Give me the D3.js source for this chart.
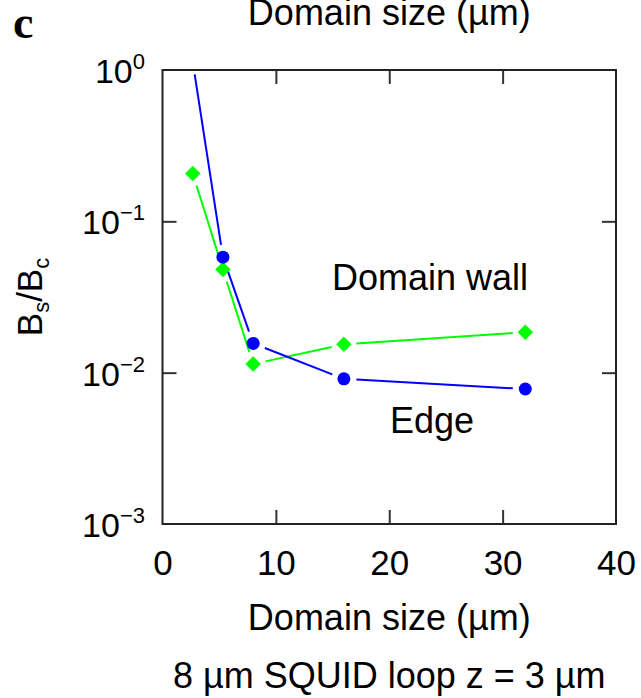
<!DOCTYPE html>
<html lang="en">
<head>
  <meta charset="UTF-8">
  <title>Bs/Bc vs domain size</title>
  <script type="text/javascript" src="https://cdn.jsdelivr.net/npm/d3@7/dist/d3.min.js"></script>
  <style type="text/css">
  body {
    background: #fff;
    margin: 0;
    padding: 0;
  }
  svg {
    display: block;
    background: #fff;
  }
  text {
    font-family: "Liberation Sans", Arial, Helvetica, sans-serif;
    fill: #000;
  }
  .axis line {
    stroke: #333;
    stroke-width: 2px;
  }
  .axis path {
    display: none;
  }
  .frame {
    fill: none;
    stroke: #222;
    stroke-width: 2px;
  }
  </style>
</head>
<body>
<div id="chart"></div>
<script type="text/javascript">
  // domain sizes (um)
  var domainSize = [2.67, 5.33, 8, 16, 32];
  // edge series (blue circles), first point is off the top of the plot
  var edgeValues = [1.13, 0.058, 0.0156, 0.0091, 0.0078];
  // domain wall series (green diamonds)
  var wallValues = [0.207, 0.048, 0.0114, 0.0154, 0.0185];

  var xTicks = [0, 10, 20, 30, 40];
  var yTicks = [1, 0.1, 0.01, 0.001];
  var yExps = ['0', '\u22121', '\u22122', '\u22123'];

  var width = 641, height = 698;
  var pLeft = 162.5, pRight = 616, pTop = 70, pBottom = 524;
  var gap = 12.5; // gap left around markers along the lines

  var svg = d3.select('#chart')
    .append('svg')
    .attr('width', width)
    .attr('height', height);

  var xScale = d3.scaleLinear()
    .domain([0, 40])
    .range([pLeft, pRight]);

  var yScale = d3.scaleLog()
    .domain([0.001, 1])
    .range([pBottom, pTop]);

  svg.append('defs').append('clipPath')
    .attr('id', 'clip')
    .append('rect')
    .attr('x', pLeft)
    .attr('y', pTop)
    .attr('width', pRight - pLeft)
    .attr('height', pBottom - pTop);

  // ticks pointing inwards on all four sides
  var xAxisB = d3.axisBottom(xScale).tickValues(xTicks).tickSizeInner(-14).tickSizeOuter(0).tickPadding(26);
  var xAxisT = d3.axisTop(xScale).tickValues([10, 20, 30]).tickSizeInner(-14).tickSizeOuter(0).tickFormat('');
  var yAxisL = d3.axisLeft(yScale).tickValues([0.1, 0.01]).tickSizeInner(-14).tickSizeOuter(0).tickFormat('');
  var yAxisR = d3.axisRight(yScale).tickValues([0.1, 0.01]).tickSizeInner(-14).tickSizeOuter(0).tickFormat('');

  var gxB = svg.append('g').attr('class', 'axis')
    .attr('transform', 'translate(0,' + pBottom + ')')
    .call(xAxisB);
  gxB.selectAll('.tick line').filter(function(d){ return d === 0 || d === 40; }).remove();
  gxB.selectAll('text').attr('font-size', 35);
  gxB.attr('font-family', null).attr('font-size', null);

  svg.append('g').attr('class', 'axis')
    .attr('transform', 'translate(0,' + pTop + ')')
    .call(xAxisT);
  svg.append('g').attr('class', 'axis')
    .attr('transform', 'translate(' + pLeft + ',0)')
    .call(yAxisL);
  svg.append('g').attr('class', 'axis')
    .attr('transform', 'translate(' + pRight + ',0)')
    .call(yAxisR);

  svg.append('rect')
    .attr('class', 'frame')
    .attr('x', pLeft)
    .attr('y', pTop)
    .attr('width', pRight - pLeft)
    .attr('height', pBottom - pTop);

  // y tick labels 10^n
  var yLab = svg.selectAll('.ylab')
    .data(yTicks)
    .enter()
    .append('text')
    .attr('class', 'ylab')
    .attr('text-anchor', 'end')
    .attr('x', 145)
    .attr('y', function(d){ return yScale(d) + 13; })
    .attr('font-size', 34);
  yLab.append('tspan').text('10');
  yLab.append('tspan')
    .attr('dy', -14)
    .attr('font-size', 22)
    .text(function(d, i){ return yExps[i]; });

  // series
  function segments(values) {
    var pts = domainSize.map(function(d, i){ return [xScale(d), yScale(values[i])]; });
    var segs = [];
    for (var i = 0; i < pts.length - 1; i++) {
      var a = pts[i], b = pts[i + 1];
      var dx = b[0] - a[0], dy = b[1] - a[1];
      var len = Math.sqrt(dx * dx + dy * dy);
      var ux = dx / len, uy = dy / len;
      segs.push([a[0] + ux * gap, a[1] + uy * gap, b[0] - ux * gap, b[1] - uy * gap]);
    }
    return segs;
  }

  var plot = svg.append('g').attr('clip-path', 'url(#clip)');

  plot.selectAll('.wallSeg')
    .data(segments(wallValues))
    .enter()
    .append('line')
    .attr('class', 'wallSeg')
    .attr('x1', function(d){ return d[0]; })
    .attr('y1', function(d){ return d[1]; })
    .attr('x2', function(d){ return d[2]; })
    .attr('y2', function(d){ return d[3]; })
    .attr('stroke', '#00ff00')
    .attr('stroke-width', 2);

  plot.selectAll('.edgeSeg')
    .data(segments(edgeValues))
    .enter()
    .append('line')
    .attr('class', 'edgeSeg')
    .attr('x1', function(d){ return d[0]; })
    .attr('y1', function(d){ return d[1]; })
    .attr('x2', function(d){ return d[2]; })
    .attr('y2', function(d){ return d[3]; })
    .attr('stroke', '#0000ff')
    .attr('stroke-width', 2);

  // diamonds: square turned by 45 degrees
  var diamond = d3.symbol().type(d3.symbolSquare).size(120);
  plot.selectAll('.wallPt')
    .data(wallValues)
    .enter()
    .append('path')
    .attr('class', 'wallPt')
    .attr('d', diamond)
    .attr('transform', function(d, i){
      return 'translate(' + xScale(domainSize[i]) + ',' + yScale(d) + ') rotate(45)';
    })
    .attr('fill', '#00ff00');

  plot.selectAll('.edgePt')
    .data(edgeValues)
    .enter()
    .append('circle')
    .attr('class', 'edgePt')
    .attr('cx', function(d, i){ return xScale(domainSize[i]); })
    .attr('cy', function(d){ return yScale(d); })
    .attr('r', 6.5)
    .attr('fill', '#0000ff');

  // annotations
  svg.append('text')
    .attr('x', 332)
    .attr('y', 290)
    .attr('font-size', 36)
    .text('Domain wall');

  svg.append('text')
    .attr('x', 390)
    .attr('y', 433)
    .attr('font-size', 36)
    .text('Edge');

  // axis titles
  var midX = (pLeft + pRight) / 2;
  svg.append('text')
    .attr('x', midX)
    .attr('y', 630)
    .attr('text-anchor', 'middle')
    .attr('font-size', 36)
    .text('Domain size (\u00b5m)');

  // repeated title, cut by the top edge as in the source figure
  svg.append('text')
    .attr('x', midX)
    .attr('y', 25)
    .attr('text-anchor', 'middle')
    .attr('font-size', 36)
    .text('Domain size (\u00b5m)');

  svg.append('text')
    .attr('x', midX)
    .attr('y', 688)
    .attr('text-anchor', 'middle')
    .attr('font-size', 36)
    .text('8 \u00b5m SQUID loop z = 3 \u00b5m');

  var yTitle = svg.append('text')
    .attr('transform', 'translate(42,' + (pTop + pBottom) / 2 + ') rotate(-90)')
    .attr('text-anchor', 'middle')
    .attr('font-size', 35);
  yTitle.append('tspan').text('B');
  yTitle.append('tspan').attr('font-size', 22).attr('dy', 7).text('s');
  yTitle.append('tspan').attr('dy', -7).text('/B');
  yTitle.append('tspan').attr('font-size', 22).attr('dy', 7).text('c');

  // panel letter
  svg.append('text')
    .attr('x', 13)
    .attr('y', 38)
    .attr('font-size', 46)
    .attr('font-weight', 'bold')
    .style('font-family', '"Liberation Serif", "Times New Roman", serif')
    .text('c');
</script>
</body>
</html>
